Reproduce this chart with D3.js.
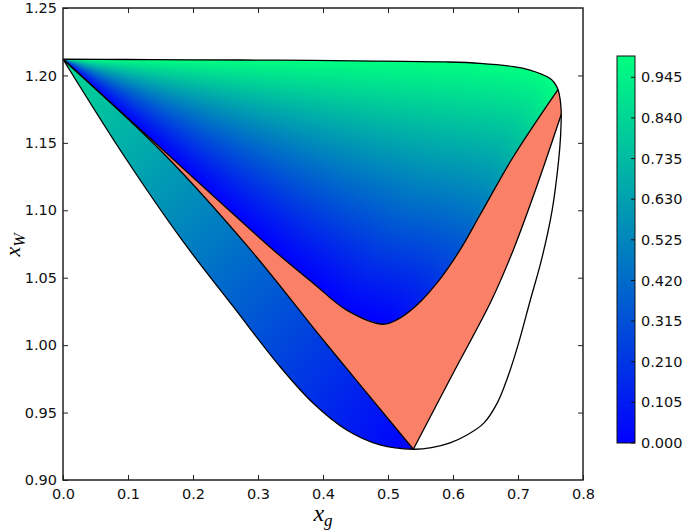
<!DOCTYPE html>
<html>
<head>
<meta charset="utf-8">
<script src="https://cdn.jsdelivr.net/npm/d3@7"></script>
<style>
  body { margin: 0; background: #fff; }
  text { font-family: "DejaVu Sans", sans-serif; }
  .axis path { display: none; }
  .axis line { stroke: #222; stroke-width: 1; }
  .axis text { font-size: 14.5px; fill: #111; }
</style>
</head>
<body>
<svg id="chart" width="685" height="532"></svg>
<script>
// curves, as [x_g, x_W] pairs
// outer boundary: top edge from the apex to where the upper family ends
var outerTop = [[0,1.212],[0.1,1.2118],[0.2,1.2116],[0.33,1.2113],[0.45,1.2108],[0.59,1.21],
  [0.6415,1.209],[0.693,1.2065],[0.7185,1.204],[0.737,1.2008],[0.749,1.1979],[0.7565,1.1942],[0.7615,1.1895]];
// short cap between the two right hand junctions
var outerCap = [[0.7615,1.1895],[0.7648,1.1825],[0.7662,1.1755],[0.7665,1.171]];
// right side of the outer boundary down to the bottom vertex
var outerRight = [[0.7665,1.171],[0.7655,1.155],[0.7625,1.137],[0.7525,1.10],[0.736,1.063],[0.719,1.0335],
  [0.70,1.0],[0.684,0.976],[0.668,0.957],[0.647,0.942],[0.62,0.933],[0.5954,0.9275],[0.567,0.924],[0.539,0.9228]];
// lower left outer boundary, apex to vertex
var lowerLeft = [[0,1.212],[0.093,1.141],[0.183,1.078],[0.262,1.0285],[0.334,0.984],[0.385,0.9569],
  [0.4364,0.9371],[0.4877,0.926],[0.539,0.9228]];
// inner line apex to vertex
var innerLeft = [[0,1.212],[0.157,1.141],[0.288,1.071],[0.40,1.004],[0.539,0.9228]];
// bottom of the upper coloured family
var upperBottom = [[0,1.212],[0.134,1.1534],[0.3236,1.0706],[0.385,1.0459],[0.4364,1.026],[0.4928,1.0155],
  [0.5134,1.0187],[0.545,1.03],[0.58,1.049],[0.6108,1.0706],[0.6415,1.0965],[0.6928,1.1397],[0.7615,1.1895]];
// line from vertex up to the outer boundary
var innerRight = [[0.539,0.9228],[0.6,0.979],[0.6595,1.0335],[0.6928,1.0706],[0.7287,1.1175],[0.7665,1.171]];

var xTicks = [0.0,0.1,0.2,0.3,0.4,0.5,0.6,0.7,0.8];
var yTicks = [0.90,0.95,1.00,1.05,1.10,1.15,1.20,1.25];
var cbTicks = [0.000,0.105,0.210,0.315,0.420,0.525,0.630,0.735,0.840,0.945];

var svg = d3.select("#chart");
var x = d3.scaleLinear().domain([0, 0.8]).range([63, 583]),
    y = d3.scaleLinear().domain([0.90, 1.25]).range([480, 8]),
    cb = d3.scaleLinear().domain([0, 1]).range([443, 56]),
    winter = d3.interpolateRgb("#0000ff", "#00ff80");

var line = d3.line()
  .x(function(d) { return x(d[0]); })
  .y(function(d) { return y(d[1]); })
  .curve(d3.curveCatmullRom.alpha(0.5));

function rev(a) { return a.slice().reverse(); }
// chain several segments into one closed outline
function join(segs) {
  return segs.map(function(s, i) { return i ? line(s).replace(/^M/, "L") : line(s); }).join("") + "Z";
}
// points along a rendered curve, in pixels
function sample(pts, n) {
  var p = svg.append("path").attr("d", line(pts)).attr("fill", "none");
  var node = p.node(), L = node.getTotalLength(), out = [];
  for (var i = 0; i <= n; i++) { var q = node.getPointAtLength(L * i / n); out.push([q.x, q.y]); }
  p.remove();
  return out;
}
function nearest(pts, px, py) {
  var m = Infinity;
  for (var i = 0; i < pts.length; i++) {
    var dx = pts[i][0] - px, dy = pts[i][1] - py, d = dx * dx + dy * dy;
    if (d < m) m = d;
  }
  return Math.sqrt(m);
}

var defs = svg.append("defs");
defs.append("clipPath").attr("id", "clipA").append("path").attr("d", join([upperBottom, rev(outerTop)]));

// upper family shading: fan around the apex close to it,
// relative distance between lower branch and top edge further out
var ax = x(0), ay = y(1.212);
var thMax = d3.max(upperBottom.slice(1), function(d) { return Math.atan2(y(d[1]) - ay, x(d[0]) - ax); });
var iMin = d3.minIndex(upperBottom, function(d) { return d[1]; });
var botS = sample(upperBottom.slice(0, iMin + 1), 220),
    topS = sample(outerTop, 320);
var x0 = Math.floor(x(0)) - 1, x1 = Math.ceil(x(0.77)) + 1,
    y0 = Math.floor(y(1.2125)) - 1, y1 = Math.ceil(y(1.012)) + 1;
var canvas = document.createElement("canvas");
canvas.width = x1 - x0; canvas.height = y1 - y0;
var ctx = canvas.getContext("2d"), img = ctx.createImageData(canvas.width, canvas.height);
for (var py = y0; py < y1; py++) {
  for (var px = x0; px < x1; px++) {
    var cx = px + 0.5, cy = py + 0.5;
    var db = nearest(botS, cx, cy), dt = nearest(topS, cx, cy);
    var tr = Math.pow(db / (db + dt + 1e-9), 1.1);
    var tc = Math.max(0, Math.min(1, 1 - Math.atan2(cy - ay, cx - ax) / thMax));
    var w = Math.min(1, Math.hypot(cx - ax, cy - ay) / 400);
    var t = (1 - w) * tc + w * tr;
    var c = d3.rgb(winter(t)), k = ((py - y0) * canvas.width + (px - x0)) * 4;
    img.data[k] = c.r; img.data[k + 1] = c.g; img.data[k + 2] = c.b; img.data[k + 3] = 255;
  }
}
ctx.putImageData(img, 0, 0);
svg.append("image").attr("x", x0).attr("y", y0)
  .attr("width", canvas.width).attr("height", canvas.height)
  .attr("href", canvas.toDataURL()).attr("clip-path", "url(#clipA)");

// lower left band: radial colouring around the bottom vertex
var vx = x(0.539), vy = y(0.9228);
var rg = defs.append("radialGradient").attr("id", "gradB")
  .attr("gradientUnits", "userSpaceOnUse")
  .attr("cx", vx).attr("cy", vy).attr("fx", vx).attr("fy", vy).attr("r", 610);
[0, 0.25, 0.5, 0.75, 1].forEach(function(t) {
  rg.append("stop").attr("offset", t).attr("stop-color", winter(t));
});
svg.append("path").attr("d", join([lowerLeft, rev(innerLeft)])).attr("fill", "url(#gradB)");

// salmon band
svg.append("path")
  .attr("d", join([innerLeft, innerRight, rev(outerCap), rev(upperBottom)]))
  .attr("fill", "#fa8068");

// black outlines
var lines = svg.append("g").attr("fill", "none").attr("stroke", "#000").attr("stroke-width", 1.3);
var outline = outerTop.concat(outerCap.slice(1), outerRight.slice(1), rev(lowerLeft).slice(1));
lines.append("path").attr("d", line(outline));
lines.append("path").attr("d", line(innerLeft));
lines.append("path").attr("d", line(upperBottom));
lines.append("path").attr("d", line(innerRight));

// axes, ticks pointing inward on all four sides
svg.append("g").attr("class", "axis").attr("transform", "translate(0,480)")
  .call(d3.axisBottom(x).tickValues(xTicks).tickFormat(d3.format(".1f")).tickSizeInner(-5).tickSizeOuter(0).tickPadding(9));
svg.append("g").attr("class", "axis").attr("transform", "translate(0,8)")
  .call(d3.axisTop(x).tickValues(xTicks.slice(1, -1)).tickFormat("").tickSizeInner(-5).tickSizeOuter(0));
svg.append("g").attr("class", "axis").attr("transform", "translate(63,0)")
  .call(d3.axisLeft(y).tickValues(yTicks).tickFormat(d3.format(".2f")).tickSizeInner(-5).tickSizeOuter(0).tickPadding(6));
svg.append("g").attr("class", "axis").attr("transform", "translate(583,0)")
  .call(d3.axisRight(y).tickValues(yTicks.slice(1, -1)).tickFormat("").tickSizeInner(-5).tickSizeOuter(0));

svg.append("rect").attr("x", 63).attr("y", 8).attr("width", 520).attr("height", 472)
  .attr("fill", "none").attr("stroke", "#222").attr("stroke-width", 1.5);

// axis labels
svg.append("text").attr("x", 323).attr("y", 521).attr("text-anchor", "middle")
  .style("font-family", "Liberation Serif, serif").style("font-style", "italic").style("font-size", "24px")
  .html('x<tspan dy="5" font-size="17">g</tspan>');
svg.append("text").attr("transform", "translate(20,245) rotate(-90)").attr("text-anchor", "middle")
  .style("font-family", "Liberation Serif, serif").style("font-style", "italic").style("font-size", "22px")
  .html('x<tspan dy="5" font-size="16">W</tspan>');

// colour bar
var lg = defs.append("linearGradient").attr("id", "gradCb")
  .attr("x1", 0).attr("y1", 1).attr("x2", 0).attr("y2", 0);
lg.append("stop").attr("offset", 0).attr("stop-color", winter(0));
lg.append("stop").attr("offset", 1).attr("stop-color", winter(1));
svg.append("rect").attr("x", 617).attr("y", cb(1)).attr("width", 18).attr("height", cb(0) - cb(1))
  .attr("fill", "url(#gradCb)").attr("stroke", "#111").attr("stroke-width", 1);
var cbg = svg.append("g");
cbg.selectAll("line").data(cbTicks).enter().append("line")
  .attr("x1", 631).attr("x2", 635)
  .attr("y1", function(d) { return cb(d); }).attr("y2", function(d) { return cb(d); })
  .attr("stroke", "#111");
cbg.selectAll("text").data(cbTicks).enter().append("text")
  .attr("x", 641).attr("y", function(d) { return cb(d); }).attr("dy", "0.35em")
  .style("font-size", "14.5px").attr("fill", "#111")
  .text(d3.format(".3f"));
</script>
</body>
</html>
